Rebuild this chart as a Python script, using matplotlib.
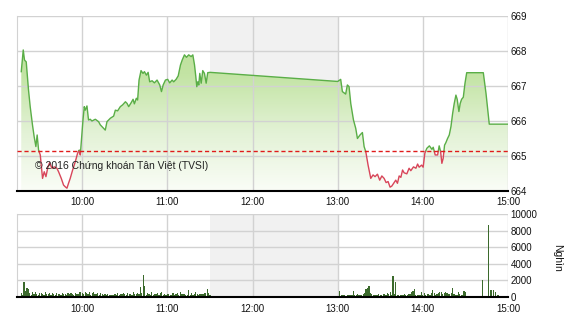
import numpy as np
import matplotlib
matplotlib.use("Agg")
import matplotlib.pyplot as plt
from matplotlib.colors import LinearSegmentedColormap
from matplotlib.patches import PathPatch

plt.rcParams['font.family'] = ['Liberation Sans', 'DejaVu Sans']

# --- Data (time = minutes after 9:00) ---
ref_value = 665.13

line_t = [17, 18.4, 19.3, 20.5, 22.1, 23.3, 24.9, 26.1, 27.3, 28.2, 29.2, 30.4, 32.0, 33.2,
          34.4, 35.8, 37.0, 38.6, 40.4, 42.1, 43.3, 45.2, 46.8, 48.0, 49.2, 50.3, 51.5, 53.2,
          55.1, 56.7, 57.9, 58.6, 59.8, 60.5, 61.4, 62.1, 63.3, 64.4, 65.6, 66.8, 69.2, 71.5,
          72.7, 74.3, 76.2, 77.4, 79.8, 82.1, 83.3, 84.9, 86.8, 88.4, 90.4, 91.6, 92.7, 94.4,
          95.8, 96.7, 98.1, 99.0, 100.0, 101.4, 102.8, 103.8, 105.2, 106.4, 107.5, 109.2,
          110.8, 112.7, 114.6, 115.8, 117.0, 118.6, 120.2, 121.6, 123.3, 124.4, 126.1, 127.6,
          129.2, 130.4, 132.0, 133.4, 135.0, 136.7, 137.9, 139.1, 140.0, 140.7, 141.4, 142.1,
          142.8, 143.8, 144.9, 146.1, 147.3, 148.4, 150,
          240, 242.1, 243.3, 245.6, 246.8, 248.0, 249.2, 251.1, 252.7, 253.9, 255.7, 257.4,
          258.6, 259.8, 261.4, 263.3, 264.9, 266.3, 268.0, 269.6, 271.1, 272.7, 274.1, 275.5,
          276.9, 278.1, 279.7, 280.9, 282.1, 283.3, 284.5, 285.7, 286.8, 288.7, 290.3, 291.5,
          293.4, 295.1, 296.3, 297.4, 299.1, 300.2, 301.4, 302.8, 304.6, 306.4, 307.3, 308.7,
          310.4, 311.5, 312.5, 313.4, 314.3, 315.3, 316.2, 317.4, 318.6, 319.8, 321.0, 322.1,
          323.3, 324.2, 325.4, 326.3, 327.3, 328.5, 329.7, 330.9, 342.6, 344.5, 346.8, 360]
line_v = [667.41, 668.03, 667.74, 667.69, 666.89, 666.41, 665.89, 665.55, 665.27, 665.60,
          665.17, 665.03, 664.36, 664.55, 664.41, 664.69, 664.81, 664.65, 664.69, 664.65,
          664.55, 664.36, 664.17, 664.12, 664.08, 664.22, 664.36, 664.60, 664.84, 665.08,
          665.17, 665.03, 665.65, 666.03, 666.41, 666.31, 666.43, 666.03, 666.05, 666.00,
          666.05, 665.98, 665.89, 665.82, 665.74, 665.98, 666.08, 666.14, 666.31, 666.29,
          666.41, 666.46, 666.55, 666.50, 666.41, 666.52, 666.62, 666.49, 666.65, 666.60,
          667.17, 667.44, 667.36, 667.41, 667.31, 667.39, 667.12, 667.15, 667.09, 667.17,
          667.03, 666.84, 667.03, 667.17, 667.19, 667.09, 667.17, 667.12, 667.19, 667.29,
          667.60, 667.74, 667.89, 667.82, 667.89, 667.84, 667.89, 667.60, 667.27, 666.98,
          667.12, 667.03, 667.36, 667.08, 667.44, 667.36, 667.08, 667.38, 667.39,
          667.13, 667.19, 666.84, 666.77, 667.03, 666.98, 666.50, 666.03, 665.79, 665.50,
          665.60, 665.67, 665.27, 665.12, 664.74, 664.36, 664.46, 664.41, 664.48, 664.31,
          664.43, 664.36, 664.24, 664.27, 664.11, 664.14, 664.24, 664.31, 664.22, 664.43,
          664.39, 664.60, 664.52, 664.49, 664.65, 664.58, 664.69, 664.65, 664.77, 664.68,
          664.74, 664.68, 665.08, 665.22, 665.29, 665.19, 665.25, 665.03, 665.03, 665.29,
          665.13, 664.79, 664.93, 665.31, 665.38, 665.50, 665.60, 665.84, 666.22, 666.50,
          666.74, 666.62, 666.27, 666.50, 666.62, 666.68, 667.08, 667.38, 667.38, 666.79,
          665.91, 665.91]

# volume (thousand shares), one bar per minute
vol_am_start = 17
vol_am = [450, 300, 1750, 700, 1050, 950, 500, 300, 550, 400,
          600, 350, 250, 500, 450, 400, 300, 550, 400, 350,
          450, 300, 500, 400, 250, 450, 350, 400, 300, 500,
          350, 400, 300, 450, 350, 500, 400, 300, 450, 350,
          400, 550, 650, 450, 350, 600, 500, 400, 550, 300,
          450, 600, 350, 400, 500, 300, 450, 350, 250, 400,
          300, 350, 250, 300, 250, 300, 350, 300, 450, 300,
          350, 400, 450, 350, 300, 500, 350, 400, 300, 600,
          350, 400, 500, 400, 1250, 500, 2650, 1350, 300, 450,
          350, 250, 600, 300, 400, 350, 450, 300, 500, 550,
          300, 350, 250, 400, 350, 300, 250, 500, 300, 350,
          450, 300, 600, 400, 350, 350, 300, 300, 850, 250,
          500, 300, 400, 600, 350, 300, 400, 350, 400, 500,
          450, 950, 500, 250]
vol_pm_start = 240
vol_pm = [0, 700, 150, 200, 300, 200, 150, 250, 200, 300,
          250, 700, 200, 300, 350, 250, 300, 200, 400, 500,
          1000, 1100, 1300, 450, 350, 200, 300, 250, 200, 400,
          300, 250, 350, 400, 250, 450, 350, 600, 300, 2550,
          350, 1800, 250, 200, 300, 250, 200, 350, 300, 250,
          400, 350, 550, 700, 950, 300, 200, 250, 300, 650,
          250, 450, 300, 350, 400, 300, 450, 850, 500, 300,
          350, 500, 600, 550, 400, 450, 600, 500, 350, 400,
          450, 1100, 350, 300, 250, 600, 400, 300, 250, 700,
          600, 0]
vol_late_t = [334, 342, 346, 348, 350, 351, 353, 355, 357, 359]
vol_late = [120, 2050, 8650, 850, 850, 600, 250, 150, 150, 150]

tick_min = [60, 120, 180, 240, 300, 360]
tick_lbl = ["10:00", "11:00", "12:00", "13:00", "14:00", "15:00"]
price_ticks = [664, 665, 666, 667, 668, 669]
vol_ticks = [0, 2000, 4000, 6000, 8000, 10000]

# --- helpers ---
def split_at_ref(t, v, ref):
    tt, vv = [t[0]], [v[0]]
    for i in range(1, len(t)):
        a, b = v[i - 1] - ref, v[i] - ref
        if a * b < 0:
            f = a / (a - b)
            tt.append(t[i - 1] + f * (t[i] - t[i - 1]))
            vv.append(ref)
        tt.append(t[i])
        vv.append(v[i])
    return np.array(tt), np.array(vv)

x0, x1 = 14, 360
grid_c = '#d2d2d2'
shade_c = '#f1f1f1'

fig = plt.figure(figsize=(5.7, 3.2), dpi=100)
ax = fig.add_axes([17 / 570, 1 - 191 / 320, 491 / 570, 175 / 320])
axv = fig.add_axes([17 / 570, 1 - 297 / 320, 491 / 570, 83 / 320])

for a in (ax, axv):
    a.axvspan(150, 240, color=shade_c, zorder=0, lw=0)
    a.set_xlim(x0, x1)
    a.set_xticks(tick_min)
    a.set_xticklabels(tick_lbl)
    a.yaxis.tick_right()
    a.tick_params(length=0, labelsize=7, colors='#111111')
    a.tick_params(axis='y', pad=2)
    a.grid(True, color=grid_c, lw=1)
    a.set_axisbelow(False)
    for s in ('top', 'right'):
        a.spines[s].set_visible(False)
    a.spines['left'].set_color(grid_c)
    a.spines['bottom'].set_color('black')
    a.spines['bottom'].set_linewidth(1.5)
    a.spines['bottom'].set_zorder(5)
    for lbl in a.get_yticklabels():
        lbl.set_horizontalalignment('left')

ax.tick_params(axis='x', pad=4.5)
axv.tick_params(axis='x', pad=5)

# price panel
ax.set_ylim(price_ticks[0], price_ticks[-1])
ax.set_yticks(price_ticks)

tt, vv = split_at_ref(line_t, line_v, ref_value)
poly = ax.fill_between(tt, vv, price_ticks[0], color='none', lw=0)
clip = PathPatch(poly.get_paths()[0], transform=ax.transData, fc='none', ec='none')
ax.add_patch(clip)
cmap = LinearSegmentedColormap.from_list('g', ['#fafdf7', '#e3f2d6', '#c3e4a4', '#b8de95'])
grad = np.linspace(0, 1, 256).reshape(-1, 1)
im = ax.imshow(grad, extent=[x0, x1, price_ticks[0], price_ticks[-1]], origin='lower',
               cmap=cmap, aspect='auto', zorder=1, interpolation='bilinear')
im.set_clip_path(clip)

up = np.where(vv >= ref_value, vv, np.nan)
dn = np.where(vv <= ref_value, vv, np.nan)
ax.plot(tt, up, color='#5aae47', lw=1, zorder=3)
ax.plot(tt, dn, color='#d8465a', lw=1, zorder=3)
ax.axhline(ref_value, color='#e01b1b', lw=1, ls=(0, (3, 2)), zorder=4)

ax.text(0.036, 0.127, "\u00a9 2016 Ch\u1ee9ng kho\u00e1n T\u00e2n Vi\u1ec7t (TVSI)",
        transform=ax.transAxes, fontsize=7.5, color='#222222', zorder=6)

# volume panel
axv.set_ylim(vol_ticks[0], vol_ticks[-1])
axv.set_yticks(vol_ticks)
am_t = vol_am_start + np.arange(len(vol_am))
pm_t = vol_pm_start + np.arange(len(vol_pm))
bar_c = '#3b6a2c'
axv.bar(am_t, vol_am, width=0.85, color=bar_c, zorder=3, lw=0)
axv.bar(pm_t, vol_pm, width=0.85, color=bar_c, zorder=3, lw=0)
axv.bar(vol_late_t, vol_late, width=0.85, color=bar_c, zorder=3, lw=0)

fig.text(557 / 570, 1 - 258 / 320, "Ngh\u00ecn", rotation=270, fontsize=7.5,
         ha='center', va='center', color='#111111')

fig.savefig("out.png", dpi=100)
